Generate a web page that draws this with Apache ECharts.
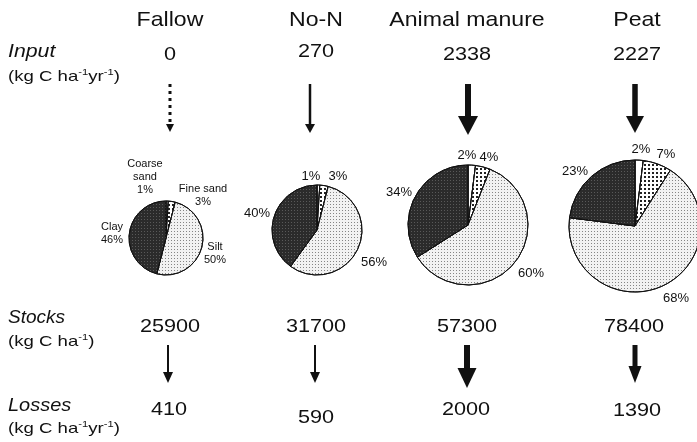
<!DOCTYPE html>
<html><head><meta charset="utf-8">
<script src="https://cdn.jsdelivr.net/npm/echarts@6/dist/echarts.min.js"></script>
<style>html,body{margin:0;padding:0;background:#fff}#c{width:697px;height:442px}</style>
</head><body><div id="c"></div>
<script>
// ---- data ----
const treatments = ['Fallow', 'No-N', 'Animal manure', 'Peat'];
const inputs = ['0', '270', '2338', '2227'];
const stocks = ['25900', '31700', '57300', '78400'];
const losses = ['410', '590', '2000', '1390'];
const fractions = ['Coarse sand', 'Fine sand', 'Silt', 'Clay'];
const coarseSand = [1, 1, 2, 2];
const fineSand = [3, 3, 4, 7];
const silt = [50, 56, 60, 68];
const clay = [46, 40, 34, 23];

// ---- layout ----
const colX = [170, 316, 467, 637];
const pieCenters = [[166, 238], [317, 230], [468, 225], [635, 226]];
const pieRadii = [37, 45, 60, 66];
const FONT = '"Liberation Sans", Arial, sans-serif';

const fracStyles = [
  { color: '#ffffff', decal: { symbol: 'none' } },
  { color: '#ffffff', decal: { symbol: 'rect', symbolSize: 1, dashArrayX: [2, 2], dashArrayY: [2, 2], color: '#222' } },
  { color: '#f2f2f2', decal: { symbol: 'rect', symbolSize: 1, dashArrayX: [1, 2], dashArrayY: [1, 2], color: 'rgba(0,0,0,0.45)' } },
  { color: '#2b2b2b', decal: { symbol: 'rect', symbolSize: 1, dashArrayX: [1, 2], dashArrayY: [1, 2], color: 'rgba(120,120,120,0.6)' } }
];

const fracValues = [coarseSand, fineSand, silt, clay];

const series = treatments.map((t, i) => ({
  type: 'pie',
  name: t,
  center: pieCenters[i],
  radius: [0, pieRadii[i]],
  startAngle: 90,
  clockwise: true,
  silent: true,
  animation: false,
  label: { show: false },
  labelLine: { show: false },
  itemStyle: { borderColor: '#111', borderWidth: 1 },
  data: fractions.map((f, k) => ({
    name: f,
    value: fracValues[k][i],
    itemStyle: { color: fracStyles[k].color, decal: fracStyles[k].decal, borderColor: '#111', borderWidth: 1 }
  }))
}));

// pie label positions [x, y] per treatment per fraction
const pieLabelPos = [
  [[145, 177], [203, 195], [215, 253], [112, 233]],
  [[311, 176], [338, 176], [374, 262], [257, 213]],
  [[467, 155], [489, 157], [531, 273], [399, 192]],
  [[641, 149], [666, 154], [676, 298], [575, 171]]
];

const graphics = [];
function txt(x, y, text, size, opts) {
  opts = opts || {};
  graphics.push({
    type: 'text', x: x, y: y, silent: true, scaleX: opts.sx || 1,
    style: {
      text: text, font: (opts.italic ? 'italic ' : '') + size + 'px ' + FONT, fill: '#111',
      align: opts.align || 'center', verticalAlign: 'middle', lineHeight: opts.lh
    }
  });
}
function richTxt(x, y, text) {
  graphics.push({
    type: 'text', x: x, y: y, silent: true, scaleX: 1.24,
    style: {
      text: text, align: 'left', verticalAlign: 'middle', fill: '#111',
      rich: {
        n: { fontSize: 15, fontFamily: FONT, fill: '#111', lineHeight: 18 },
        s: { fontSize: 9, fontFamily: FONT, fill: '#111', lineHeight: 18, verticalAlign: 'top', padding: [0, 0, 6, 0] }
      }
    }
  });
}
function arrow(x, y1, y2, shaftW, headW, headH, dashed) {
  graphics.push({
    type: 'line', silent: true,
    shape: { x1: x, y1: y1, x2: x, y2: y2 - headH + 1 },
    style: { stroke: '#111', lineWidth: shaftW, lineDash: dashed ? [3, 4] : null }
  });
  graphics.push({
    type: 'polygon', silent: true,
    shape: { points: [[x - headW / 2, y2 - headH], [x + headW / 2, y2 - headH], [x, y2]] },
    style: { fill: '#111' }
  });
}

// headers
treatments.forEach((t, i) => txt(colX[i], 20, t, 21, { sx: 1.1 }));
// row labels
txt(8, 52, 'Input', 19, { align: 'left', italic: true, sx: 1.12 });
richTxt(8, 77, '{n|(kg C ha}{s|-1}{n|yr}{s|-1}{n|)}');
txt(8, 318, 'Stocks', 19, { align: 'left', italic: true });
richTxt(8, 342, '{n|(kg C ha}{s|-1}{n|)}');
txt(8, 406, 'Losses', 19, { align: 'left', italic: true, sx: 1.05 });
richTxt(8, 429, '{n|(kg C ha}{s|-1}{n|yr}{s|-1}{n|)}');

// values
const inputY = [55, 52, 55, 55];
inputs.forEach((v, i) => txt(colX[i], inputY[i], v, 19, { sx: 1.14 }));
const stockX = [170, 316, 467, 634];
stocks.forEach((v, i) => txt(stockX[i], 327, v, 19, { sx: 1.14 }));
const lossX = [169, 316, 466, 637];
const lossY = [410, 418, 410, 411];
losses.forEach((v, i) => txt(lossX[i], lossY[i], v, 19, { sx: 1.14 }));

// arrows input -> pie
arrow(170, 84, 132, 3, 8, 8, true);
arrow(310, 84, 133, 2.5, 10, 9, false);
arrow(468, 84, 135, 6, 20, 19, false);
arrow(635, 84, 133, 5.5, 18, 17, false);
// arrows stocks -> losses
arrow(168, 345, 383, 2, 10, 11, false);
arrow(315, 345, 383, 2, 10, 11, false);
arrow(467, 345, 388, 6, 19, 20, false);
arrow(635, 345, 383, 5, 13, 17, false);

// pie labels
treatments.forEach((t, i) => {
  fractions.forEach((f, k) => {
    const v = fracValues[k][i] + '%';
    const p = pieLabelPos[i][k];
    if (i === 0) {
      const nm = k === 0 ? 'Coarse\nsand' : f;
      txt(p[0], p[1], nm + '\n' + v, 11, { lh: 13 });
    } else {
      txt(p[0], p[1], v, 13);
    }
  });
});

const chart = echarts.init(document.getElementById('c'), null, { renderer: 'canvas' });
chart.setOption({
  backgroundColor: '#fff',
  animation: false,
  series: series,
  graphic: graphics
});
</script></body></html>
